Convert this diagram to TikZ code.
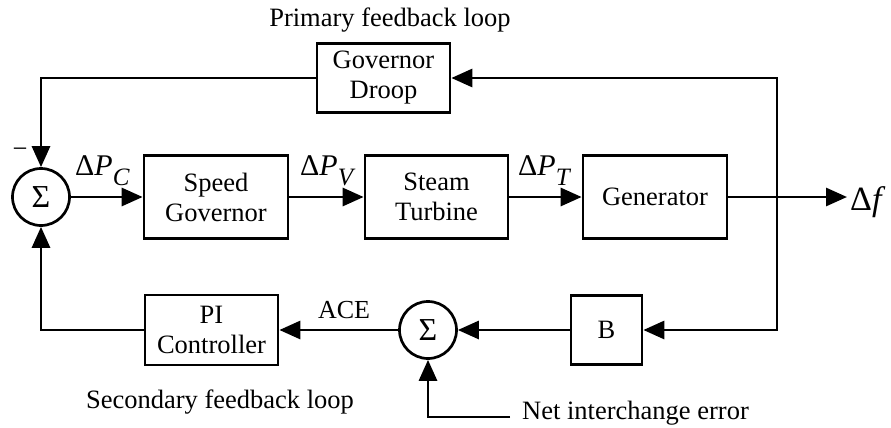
\documentclass[tikz,border=0pt]{standalone}
\usepackage{fontspec}
\setmainfont{Liberation Serif}
\usetikzlibrary{arrows.meta}
% Delta-P signal label with a lowered italic subscript
\newcommand{\dsig}[2]{{\fontsize{30}{30}\selectfont Δ\textit{#1}\raisebox{-10pt}{\fontsize{25}{25}\selectfont\textit{#2}}}}
\begin{document}
\begin{tikzpicture}[x=1pt,y=-1pt,
  every node/.style={font=\fontsize{26.5}{30}\selectfont, inner sep=0pt},
  blockbox/.style={draw, align=center, line width=2.7pt},
  sumnode/.style={draw, circle, minimum size=57pt, line width=2.7pt,
    font=\fontsize{32}{32}\selectfont},
  sig/.style={-{Triangle[length=21pt,width=18pt]}, line width=2.9pt},
]
\useasboundingbox (0,0) rectangle (891,428);

% blocks of the forward path
\node[sumnode] (s1) at (41,197) {Σ};
\node[blockbox, minimum width=144pt, minimum height=83pt] (sg) at (216,197) {Speed\\Governor};
\node[blockbox, minimum width=143pt, minimum height=83pt] (st) at (436.5,197) {Steam\\Turbine};
\node[blockbox, minimum width=144pt, minimum height=83pt] (gen) at (655,197) {Generator};

% feedback blocks
\node[blockbox, minimum width=133pt, minimum height=69pt] (gd) at (383.5,78) {Governor\\Droop};
\node[blockbox, minimum width=71pt, minimum height=69pt] (b) at (606.5,330) {B};
\node[sumnode] (s2) at (428,330) {Σ};
\node[blockbox, minimum width=133pt, minimum height=70pt] (pi) at (211.5,330) {PI\\Controller};

% routing points
\coordinate (tap) at (777,197);
\coordinate (out) at (847,197);
\coordinate (tr) at (777,78);
\coordinate (tl) at (41,78);
\coordinate (br) at (777,330);
\coordinate (bl) at (41,330);
\coordinate (nie) at (510,417);
\coordinate (niec) at (428,417);

% forward path
\draw[sig] (s1) -- (sg);
\draw[sig] (sg) -- (st);
\draw[sig] (st) -- (gen);
\draw[sig] (gen) -- (out);

% primary loop
\draw[sig] (tap) -- (tr) -- (gd.east);
\draw[sig] (gd.west) -- (tl) -- (s1.north);

% secondary loop
\draw[sig] (tap) -- (br) -- (b.east);
\draw[sig] (b) -- (s2);
\draw[sig] (s2) -- (pi);
\draw[sig] (pi.west) -- (bl) -- (s1.south);
\draw[sig] (nie) -- (niec) -- (s2.south);

% signal labels
\node[anchor=base west] (lpc) at (75,175) {\dsig{P}{C}};
\node[anchor=base west] (lpv) at (300,175) {\dsig{P}{V}};
\node[anchor=base west] (lpt) at (518,175) {\dsig{P}{T}};
\node[anchor=base west] (ldf) at (850,210) {\fontsize{34}{34}\selectfont Δ\textit{f}};
\node[anchor=base] (lace) at (344,318) {\fontsize{26}{26}\selectfont ACE};
\node (lminus) at (20,153) {−};

% loop captions
\node[anchor=base] (prim) at (390,27) {Primary feedback loop};
\node[anchor=base] (sec) at (220,408) {Secondary feedback loop};
\node[anchor=base west] (nietxt) at (522,419) {Net interchange error};
\end{tikzpicture}
\end{document}
